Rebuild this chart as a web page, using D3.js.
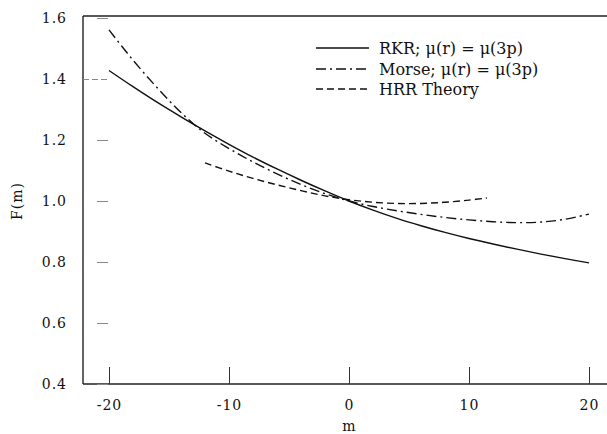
<!DOCTYPE html>
<html>
<head>
<meta charset="utf-8">
<script src="https://cdn.jsdelivr.net/npm/d3@7"></script>
<style>
  html, body { margin: 0; padding: 0; background: #fff; }
  svg text { font-family: "DejaVu Serif", serif; fill: #111; }
</style>
</head>
<body>
<svg id="chart" width="607" height="434"></svg>
<script>
// tick values
const xTicks = [-20, -10, 0, 10, 20];
const yTicks = [0.4, 0.6, 0.8, 1.0, 1.2, 1.4, 1.6];

// RKR; mu(r) = mu(3p)  (solid)
const rkrM = [-20, -18, -16, -14, -12, -10, -8, -6, -4, -2, 0, 2, 4, 6, 8, 10, 12, 14, 16, 18, 20];
const rkrF = [1.428, 1.375, 1.324, 1.276, 1.230, 1.186, 1.144, 1.105, 1.068, 1.033, 1.0,
              0.970, 0.943, 0.919, 0.897, 0.877, 0.859, 0.842, 0.826, 0.811, 0.797];

// Morse; mu(r) = mu(3p)  (dash-dot)
const morseM = [-20, -18, -16, -14, -12, -10, -8, -6, -4, -2, 0, 2, 4, 6, 8, 10, 12, 14, 16, 18, 20];
const morseF = [1.561, 1.462, 1.372, 1.290, 1.222, 1.172, 1.128, 1.089, 1.054, 1.024, 1.0,
                0.982, 0.968, 0.956, 0.946, 0.938, 0.932, 0.929, 0.931, 0.940, 0.957];

// HRR Theory  (dashed)
const hrrM = [-12, -10, -8, -6, -4, -2, 0, 2, 4, 6, 8, 10, 11.5];
const hrrF = [1.125, 1.098, 1.074, 1.053, 1.034, 1.017, 1.004, 0.996, 0.992, 0.992, 0.996, 1.003, 1.010];

const legendLabels = ["RKR; \u03bc(r) = \u03bc(3p)", "Morse; \u03bc(r) = \u03bc(3p)", "HRR Theory"];

const width = 607, height = 434;
const marginLeft = 83, marginTop = 16, marginBottom = 50;

const svg = d3.select("#chart");

const x = d3.scaleLinear([-20, 20], [109, 589]);
const y = d3.scaleLinear([0.4, 1.6], [height - marginBottom, 18]);

const styles = [
  {dash: null},
  {dash: "10,4,2,4"},
  {dash: "7,4"}
];

// frame (left, top, bottom)
const frame = svg.append("g").attr("stroke", "#222").attr("stroke-width", 1.4);
frame.append("line")
  .attr("x1", marginLeft).attr("x2", marginLeft)
  .attr("y1", marginTop).attr("y2", y(0.4));
frame.append("line")
  .attr("x1", marginLeft).attr("x2", width)
  .attr("y1", marginTop).attr("y2", marginTop);
frame.append("line")
  .attr("x1", marginLeft).attr("x2", width)
  .attr("y1", y(0.4)).attr("y2", y(0.4));

// axes
const gx = svg.append("g")
  .attr("transform", `translate(0,${y(0.4)})`)
  .call(d3.axisBottom(x).tickValues(xTicks).tickFormat(d => String(d))
    .tickSizeInner(-17).tickSizeOuter(0).tickPadding(16));
gx.select(".domain").remove();
gx.selectAll(".tick line").attr("stroke", "#333").attr("stroke-width", 1);
gx.selectAll(".tick text")
  .style("font-size", "14px")
  .style("letter-spacing", "1px")
  .style("font-family", "DejaVu Serif, serif");

const gy = svg.append("g")
  .attr("transform", `translate(${marginLeft},0)`)
  .call(d3.axisLeft(y).tickValues(yTicks).tickFormat(d3.format(".1f"))
    .tickSizeInner(-25).tickSizeOuter(0).tickPadding(16));
gy.select(".domain").remove();
gy.selectAll(".tick line")
  .attr("stroke", "#888")
  .attr("stroke-dasharray", d => (d === 1.4 ? "6,3" : "0,14,11"));
gy.selectAll(".tick text")
  .style("font-size", "14px")
  .style("letter-spacing", "1px")
  .style("font-family", "DejaVu Serif, serif");

// axis titles
svg.append("text")
  .attr("x", x(0)).attr("y", 431)
  .attr("text-anchor", "middle")
  .style("font-size", "14px")
  .text("m");

svg.append("text")
  .attr("transform", `translate(22,${y(1.0)}) rotate(-90)`)
  .attr("text-anchor", "middle")
  .style("font-size", "14px")
  .style("letter-spacing", "1px")
  .text("F(m)");

// curves
const line = d3.line()
  .x(d => x(d[0]))
  .y(d => y(d[1]))
  .curve(d3.curveCatmullRom);

const series = [
  d3.zip(rkrM, rkrF),
  d3.zip(morseM, morseF),
  d3.zip(hrrM, hrrF)
];

series.forEach((s, i) => {
  svg.append("path")
    .attr("fill", "none")
    .attr("stroke", "#111")
    .attr("stroke-width", 1.4)
    .attr("stroke-dasharray", styles[i].dash)
    .attr("d", line(s));
});

// legend
const legend = svg.append("g");
const legendY = [48, 69, 89];
legendLabels.forEach((label, i) => {
  legend.append("line")
    .attr("x1", 316).attr("x2", 369)
    .attr("y1", legendY[i]).attr("y2", legendY[i])
    .attr("stroke", "#111")
    .attr("stroke-width", 1.4)
    .attr("stroke-dasharray", styles[i].dash);
  legend.append("text")
    .attr("x", 379).attr("y", legendY[i] + 6)
    .style("font-size", "16px")
    .text(label);
});
</script>
</body>
</html>
